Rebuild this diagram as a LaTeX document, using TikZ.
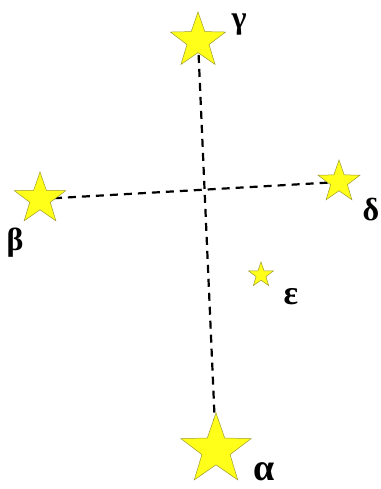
\documentclass[tikz,border=0pt]{standalone}
\usepackage{fontspec}
\setmainfont{Liberation Serif}
\usetikzlibrary{shapes.geometric,backgrounds}
\definecolor{stYellow}{HTML}{FFFF1A}
\definecolor{stEdge}{HTML}{9C9A2E}
\begin{document}
\begin{tikzpicture}[x=1pt, y=-1pt,
  starnode/.style={star, star points=5, star point ratio=2.5, inner sep=0pt,
                   fill=stYellow, draw=stEdge, line width=0.5pt},
  lbl/.style={inner sep=0pt, text=black},
  link/.style={draw=black, line width=2.2pt, dash pattern=on 8pt off 6pt},
]
\useasboundingbox (0,0) rectangle (380,489);

% stars, outer diameter set per star
\node[starnode, minimum size=58pt] (gamma) at (198,41)  {};
\node[starnode, minimum size=54pt] (beta)  at (40,199)  {};
\node[starnode, minimum size=44pt] (delta) at (339,182) {};
\node[starnode, minimum size=26pt] (eps)   at (261,275) {};
\node[starnode, minimum size=74pt] (alpha) at (216,450) {};

% labels
\node[lbl, font=\fontsize{32}{32}\selectfont\bfseries] (lgamma) at (239,25)  {γ};
\node[lbl, font=\fontsize{32}{32}\selectfont\bfseries] (lbeta)  at (15,243)  {β};
\node[lbl, font=\fontsize{32}{32}\selectfont\bfseries] (ldelta) at (371,210) {δ};
\node[lbl, font=\fontsize{34}{34}\selectfont\bfseries] (leps)   at (291,297) {ε};
\node[lbl, font=\fontsize{38}{38}\selectfont\bfseries] (lalpha) at (264,472) {α};

% dashed cross behind the stars
\begin{scope}[on background layer]
  \draw[link] (gamma.center) -- (alpha.center);
  \draw[link] (beta.center) -- (delta.center);
\end{scope}

\end{tikzpicture}
\end{document}
